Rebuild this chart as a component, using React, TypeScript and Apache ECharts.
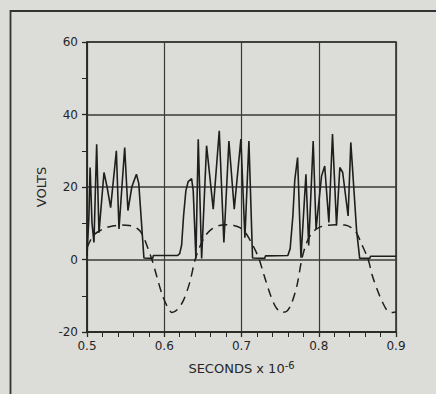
import React, { useEffect, useRef } from "react";
import * as echarts from "echarts";

// time (seconds x 1e-6) and volts for the solid trace
const solidT = [
  0.5, 0.5025, 0.504, 0.5065, 0.509, 0.5125, 0.5155, 0.522, 0.526, 0.5306, 0.538, 0.5414,
  0.5488, 0.553, 0.558, 0.56, 0.564, 0.567, 0.5737, 0.585, 0.586, 0.617, 0.62, 0.6225,
  0.625, 0.628, 0.631, 0.6354, 0.6375, 0.641, 0.644, 0.6484, 0.6548, 0.6634, 0.6712, 0.6772,
  0.6837, 0.6906, 0.6992, 0.7044, 0.7096, 0.7143, 0.73, 0.731, 0.76, 0.763, 0.7665, 0.769,
  0.7726, 0.777, 0.7834, 0.787, 0.7928, 0.7965, 0.8036, 0.8077, 0.8131, 0.8178, 0.823, 0.8273,
  0.831, 0.838, 0.8415, 0.849, 0.853, 0.866, 0.867, 0.9,
];
const solidV = [
  1, 12, 25.4, 10, 4.7, 31.8, 7.4, 24, 20, 14.3, 30, 8.4,
  30.9, 13.5, 20, 21.2, 23.5, 21, 0.4, 0.3, 1.1, 1.1, 1.6, 4,
  12, 19, 21.5, 22.3, 19, 0.3, 33.2, 0.3, 31.4, 13.9, 35.5, 4.7,
  32.7, 13.9, 33.2, 6, 32.7, 0.4, 0.3, 1, 1.1, 3, 12, 22,
  28.1, 0.5, 23.5, 3.9, 32.7, 8.4, 23, 25.8, 10.2, 34.6, 9.4, 25.4,
  24, 12, 32.3, 8, 0.3, 0.3, 0.9, 0.9,
];

// time and volts for the dashed trace
const dashedT = [
  0.5, 0.505, 0.51, 0.517, 0.525, 0.535, 0.545, 0.555, 0.563, 0.569, 0.574, 0.579,
  0.584, 0.59, 0.597, 0.604, 0.61, 0.617, 0.625, 0.633, 0.64, 0.646, 0.653, 0.661,
  0.67, 0.68, 0.69, 0.698, 0.705, 0.712, 0.718, 0.723, 0.729, 0.737, 0.744, 0.752,
  0.759, 0.765, 0.772, 0.778, 0.784, 0.791, 0.8, 0.81, 0.822, 0.834, 0.842, 0.849,
  0.855, 0.864, 0.869, 0.876, 0.883, 0.89, 0.896, 0.9,
];
const dashedV = [
  3.3, 5.5, 7, 8, 8.8, 9.3, 9.5, 9.4, 8.8, 7.8, 5.8, 3,
  0, -4.4, -9.5, -13, -14.6, -13.8, -11.2, -6.3, 0, 3.5, 6.5, 8.3,
  9.3, 9.6, 9.4, 8.8, 7.4, 5, 2.5, 0, -4.2, -9.5, -13, -14.6,
  -14.2, -12, -7, 0, 4.5, 7.3, 8.8, 9.4, 9.6, 9.5, 8.8, 7.3,
  4.5, 0, -4.2, -8.5, -12, -14.4, -14.6, -14.5,
];

const xTicks = [0.5, 0.6, 0.7, 0.8, 0.9];
const yTicks = [-20, 0, 20, 40, 60];

const INK = "#262626";
const FONT = "DejaVu Sans";

export default function App() {
  const ref = useRef<HTMLDivElement>(null);
  useEffect(() => {
    if (!ref.current) return;
    const chart = echarts.init(ref.current, undefined, { renderer: "svg" });
    const solid = solidT.map((t, i) => [t, solidV[i]]);
    const dashed = dashedT.map((t, i) => [t, dashedV[i]]);
    chart.setOption({
      animation: false,
      backgroundColor: "#dcdcd8",
      grid: {
        left: 87,
        top: 42,
        width: 309,
        height: 290,
        show: true,
        borderColor: INK,
        borderWidth: 1.5,
        backgroundColor: "transparent",
      },
      graphic: [
        {
          type: "line",
          shape: { x1: 10, y1: 11, x2: 436, y2: 11 },
          style: { stroke: "#333", lineWidth: 1.8 },
        },
        {
          type: "line",
          shape: { x1: 10.5, y1: 10, x2: 10.5, y2: 394 },
          style: { stroke: "#333", lineWidth: 1.8 },
        },
      ],
      xAxis: {
        type: "value",
        min: xTicks[0],
        max: xTicks[xTicks.length - 1],
        interval: 0.1,
        name: "{a|SECONDS x 10}{b|-6}",
        nameLocation: "middle",
        nameGap: 28,
        nameTextStyle: {
          rich: {
            a: { fontFamily: FONT, fontSize: 13, color: INK, lineHeight: 17 },
            b: { fontFamily: FONT, fontSize: 10, color: INK, verticalAlign: "top", lineHeight: 11 },
          },
        },
        axisLine: { show: true, onZero: false, lineStyle: { color: INK, width: 1.5 } },
        axisTick: { show: true, length: 5, inside: false, lineStyle: { color: INK, width: 1.3 } },
        minorTick: { show: true, splitNumber: 5, length: 5, lineStyle: { color: INK, width: 1 } },
        splitLine: { show: true, lineStyle: { color: "#3a3a3a", width: 1.2 } },
        axisLabel: {
          margin: 8,
          fontFamily: FONT,
          fontSize: 12,
          color: INK,
          formatter: (v: number) => v.toFixed(1),
        },
      },
      yAxis: {
        type: "value",
        min: yTicks[0],
        max: yTicks[yTicks.length - 1],
        interval: 20,
        name: "VOLTS",
        nameLocation: "middle",
        nameRotate: 90,
        nameGap: 34,
        nameTextStyle: { fontFamily: FONT, fontSize: 13, color: INK },
        axisLine: { show: true, onZero: false, lineStyle: { color: INK, width: 1.5 } },
        axisTick: { show: true, length: 5, inside: false, lineStyle: { color: INK, width: 1.3 } },
        minorTick: { show: true, splitNumber: 2, length: 5, lineStyle: { color: INK, width: 1 } },
        splitLine: { show: true, lineStyle: { color: "#3a3a3a", width: 1.5 } },
        axisLabel: { margin: 9, fontFamily: FONT, fontSize: 12, color: INK },
      },
      series: [
        {
          type: "line",
          name: "solid",
          data: solid,
          showSymbol: false,
          symbol: "none",
          lineStyle: { color: "#1e1e1e", width: 1.6 },
          z: 3,
        },
        {
          type: "line",
          name: "dashed",
          data: dashed,
          showSymbol: false,
          symbol: "none",
          smooth: 0.3,
          lineStyle: { color: "#1e1e1e", width: 1.5, type: [9, 6] },
          z: 2,
        },
      ],
    });
    return () => chart.dispose();
  }, []);
  return (
    <div
      ref={ref}
      style={{ position: "fixed", left: 0, top: 0, width: 436, height: 394 }}
    />
  );
}
